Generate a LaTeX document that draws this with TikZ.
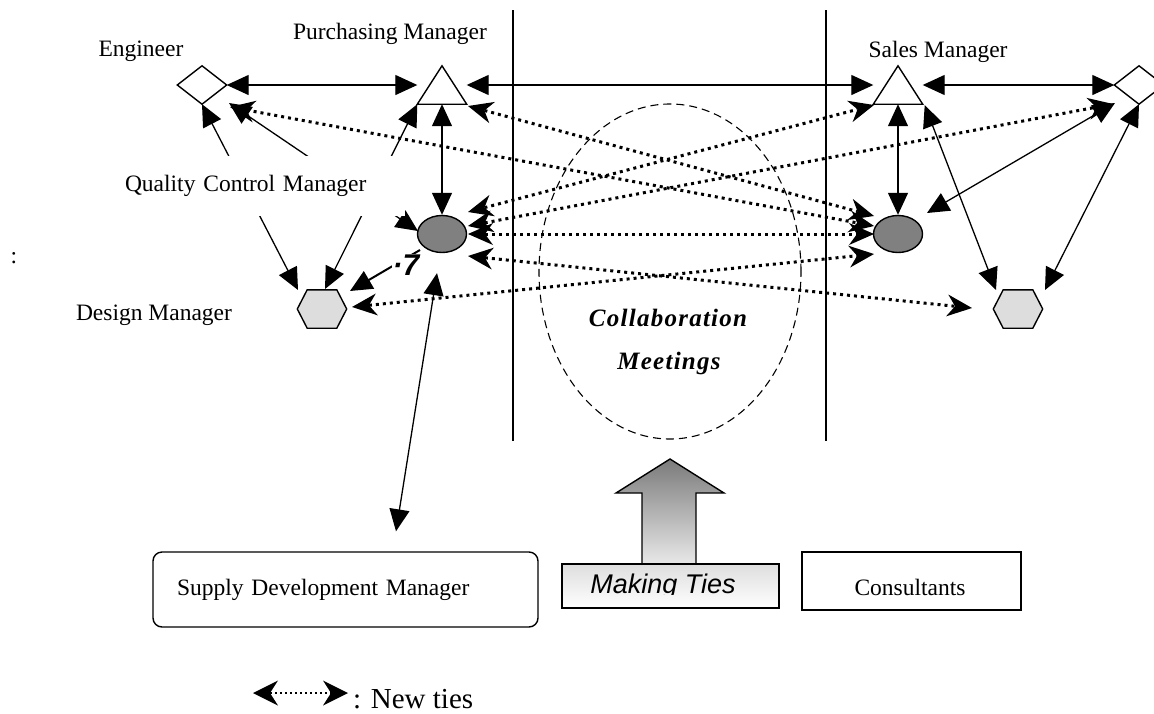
\documentclass[tikz,border=0pt]{standalone}
\usepackage{fontspec}
\setmainfont{Liberation Serif}
\newfontfamily\sansfam{Liberation Sans}
\newfontfamily\spacedfam[LetterSpace=5]{Liberation Serif}
\usetikzlibrary{arrows.meta,shapes.geometric,calc}
\definecolor{ovalgray}{HTML}{808080}
\definecolor{hexgray}{HTML}{DDDDDD}

\begin{document}
\begin{tikzpicture}[x=1pt,y=-1pt,
  lbl/.style={font=\fontsize{23.5}{28}\selectfont, inner sep=0pt},
  spot/.style={inner sep=0pt, minimum width=49pt, minimum height=38pt},
  outline/.style={line width=1.4pt, line join=miter},
  tie/.style={line width=1.3pt, {Triangle[length=22pt,width=20pt]}-{Triangle[length=22pt,width=20pt]}},
  newtie/.style={line width=3pt, dash pattern=on 3pt off 4pt,
    {Stealth[length=25pt,width=22pt,inset=8pt,line width=0pt]}-{Stealth[length=25pt,width=22pt,inset=8pt,line width=0pt]}},
  divider/.style={line width=1.5pt},
  plainbox/.style={draw, line width=1.4pt, lbl}
]
\useasboundingbox (0,0) rectangle (1154,713);

% ---- zone dividers and the meeting area ----
\draw[divider] (513,10) -- (513,441);
\draw[divider] (826,10) -- (826,441);
\draw[line width=1.1pt, dash pattern=on 8pt off 5pt] (670,271.5) ellipse (131pt and 167.5pt);

% ---- actor positions ----
\node[spot] (eng)  at (202,85)  {};
\node[spot] (pm)   at (442,85)  {};
\node[spot] (sm)   at (898,85)  {};
\node[spot] (eng2) at (1139,85) {};
\node[spot] (hl)   at (322,309) {};
\node[spot] (hr)   at (1018,309) {};
\node[ellipse, draw, line width=1.4pt, fill=ovalgray, inner sep=0pt,
      minimum width=49pt, minimum height=37pt] (el) at (442,234) {};
\node[ellipse, draw, line width=1.4pt, fill=ovalgray, inner sep=0pt,
      minimum width=49pt, minimum height=37pt] (er) at (898,234) {};

% ---- new ties (dotted) ----
\draw[newtie] ($(pm)+(26,21)$)  -- ($(er)+(-24,-18)$);
\draw[newtie] ($(eng)+(28,22)$) -- ($(er)+(-24,-8)$);
\draw[newtie] ($(el)+(26,-22)$) -- ($(sm)+(-24,20)$);
\draw[newtie] ($(el)+(26,-8)$)  -- ($(eng2)+(-26,19)$);
\draw[newtie] ($(el)+(26,0)$)   -- ($(er)+(-24,0)$);
\draw[newtie] ($(el)+(26,22)$)  -- ($(hr)+(-46,-1)$);
\draw[newtie] ($(hl)+(30,-2)$)  -- ($(er)+(-24,20)$);

% ---- existing ties (solid) ----
\draw[tie] (eng.east) -- (pm.west);
\draw[tie] (pm.east) -- (sm.west);
\draw[tie] (sm.east) -- (eng2.west);
\draw[tie] (pm.south) -- (el.north);
\draw[tie] (sm.south) -- (er.north);
\draw[tie] ($(er)+(29,-21)$) -- ($(eng2)+(-24,18)$);
\draw[tie] ($(sm.south east)+(2,1)$) -- ($(hr)+(-22,-19)$);
\draw[tie] (eng2.south) -- ($(hr)+(27,-19)$);
\draw[tie] (eng.south) -- ($(hl)+(-24,-19)$);
\draw[tie] ($(eng)+(27,18)$) -- ($(el)+(-24,-3)$);
\draw[tie] (pm.south west) -- ($(hl)+(3,-20)$);
\draw[line width=2pt, -{Triangle[length=22pt,width=20pt]}] ($(el)+(-22,16)$) -- ($(hl)+(28,-18)$);

% ---- actor symbols ----
\draw[outline, fill=white] (eng.west) -- (eng.north) -- (eng.east) -- (eng.south) -- cycle;
\draw[outline, fill=white] (eng2.west) -- (eng2.north) -- (eng2.east) -- (eng2.south) -- cycle;
\draw[outline, fill=white] (pm.south west) -- (pm.north) -- (pm.south east) -- cycle;
\draw[outline, fill=white] (sm.south west) -- (sm.north) -- (sm.south east) -- cycle;
\foreach \h in {hl,hr}{
  \draw[outline, fill=hexgray] (\h.west)
    -- ($(\h.north west)!0.2!(\h.north east)$) -- ($(\h.north west)!0.8!(\h.north east)$)
    -- (\h.east)
    -- ($(\h.south west)!0.8!(\h.south east)$) -- ($(\h.south west)!0.2!(\h.south east)$)
    -- cycle;
}

% ---- labels ----
\node[lbl] (engl) at (141,51) {Engineer};
\node[lbl] (pml)  at (390,34) {Purchasing Manager};
\node[lbl] (sml)  at (938,52) {Sales Manager};
\node[lbl] (dml)  at (154,315) {Design Manager};
\node[lbl, fill=white, text width=270pt, inner xsep=10pt, minimum height=60pt, align=left]
  (qcm) at (260,186) {Quality Control Manager};
\node[font=\sansfam\fontsize{30}{30}\selectfont\bfseries\itshape, fill=white, inner sep=1pt]
  (mark) at (406,265) {·7};
\node[lbl] (colon) at (14,258) {:};
\node[font=\spacedfam\fontsize{25}{30}\selectfont\bfseries\itshape, inner sep=0pt]
  (collab) at (668,318) {Collaboration};
\node[font=\spacedfam\fontsize{25}{30}\selectfont\bfseries\itshape, inner sep=0pt]
  (meet) at (669,363) {Meetings};

% ---- bottom row ----
\node[plainbox, rounded corners=9pt, minimum width=385pt, minimum height=75pt,
      text width=337pt, inner xsep=24pt, align=left] (sdm) at (345.5,589.5)
  {Supply Development Manager};
\draw[tie] ($(el.south)+(-5,20)$) -- ($(sdm.north)+(50.5,-20)$);

\node[plainbox, minimum width=219pt, minimum height=58pt] (cons) at (911.5,581) {};
\node[lbl] (consl) at (910,587) {Consultants};

\draw[outline, top color=black!52, bottom color=black!8]
  (670,459) -- (724,493) -- (696,493) -- (696,566) -- (642,566) -- (642,493) -- (616,493) -- cycle;
\node[draw, line width=1.4pt, top color=black!13, bottom color=white, inner sep=0pt,
      minimum width=217pt, minimum height=44pt] (mt) at (670.5,586) {};
\begin{scope}
  \clip (562,560) rectangle (779,594);
  \node[font=\sansfam\fontsize{27}{30}\selectfont\itshape, inner sep=0pt, anchor=base]
    (mtl) at (663,593) {Making Ties};
\end{scope}

% ---- legend ----
\coordinate (lgA) at (253,693);
\coordinate (lgB) at (348,693);
\draw[line width=2pt, dash pattern=on 2pt off 3pt,
  {Stealth[length=25pt,width=25pt,inset=8pt,line width=0pt]}-{Stealth[length=25pt,width=25pt,inset=8pt,line width=0pt]}]
  (lgA) -- (lgB);
\node[font=\fontsize{29}{32}\selectfont, inner sep=0pt, anchor=west] (lgl) at (353,699) {: New ties};
\end{tikzpicture}
\end{document}
